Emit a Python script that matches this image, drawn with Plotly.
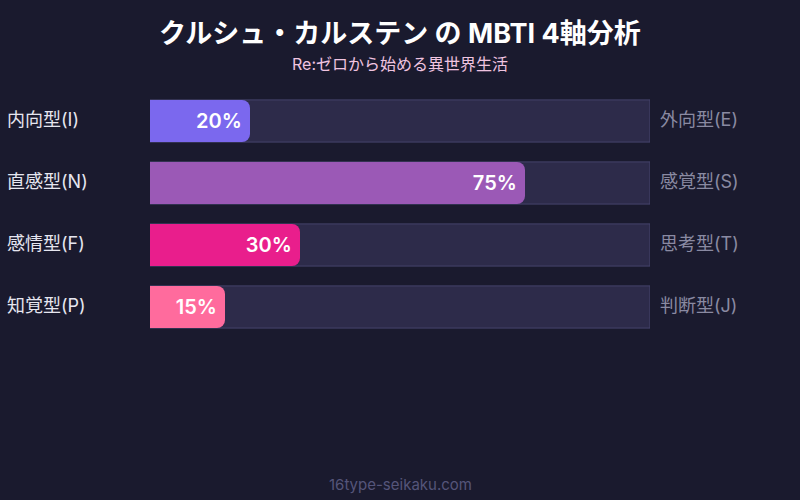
import plotly.graph_objects as go

# --- data ---
left_labels = ["内向型(I)", "直感型(N)", "感情型(F)", "知覚型(P)"]
right_labels = ["外向型(E)", "感覚型(S)", "思考型(T)", "判断型(J)"]
scores = [20, 75, 30, 15]
bar_colors = ["#7b68ee", "#9b59b6", "#e91e8c", "#ff6b9d"]
track_max = [100, 100, 100, 100]

FONT = "Inter, Noto Sans CJK JP"
BG = "#1a1a2e"
W, H = 800, 500
M_L, M_R, M_T, M_B = 150, 150, 90, 162

fig = go.Figure()

# background track (bottom axis)
fig.add_trace(go.Bar(
    x=track_max, y=left_labels, orientation="h",
    marker=dict(color="#2d2b4a", line=dict(color="#46446c", width=1), cornerradius=0),
    hoverinfo="skip", showlegend=False,
))

# score bars on an overlaying axis so they sit on top of the track
fig.add_trace(go.Bar(
    x=scores, y=left_labels, orientation="h", yaxis="y2",
    marker=dict(color=bar_colors, line=dict(width=0), cornerradius=8),
    text=[f"{v}% " for v in scores],
    textposition="inside", insidetextanchor="end",
    textfont=dict(family=FONT, size=20, color="white", weight=600),
    showlegend=False,
))

fig.update_layout(
    width=W, height=H,
    paper_bgcolor=BG, plot_bgcolor=BG,
    barmode="group", bargap=0.32,
    margin=dict(l=M_L, r=M_R, t=M_T, b=M_B),
    xaxis=dict(range=[0, 100], visible=False, fixedrange=True),
    yaxis=dict(autorange="reversed", visible=False, fixedrange=True),
    yaxis2=dict(autorange="reversed", visible=False, fixedrange=True,
                overlaying="y", matches="y"),
    font=dict(family=FONT),
)

# labels either side of the track
for lab, rlab in zip(left_labels, right_labels):
    fig.add_annotation(x=-(M_L - 5) / (W - M_L - M_R), y=lab, xref="paper", yref="y", text=lab,
                       xanchor="left", showarrow=False, yshift=2,
                       font=dict(family=FONT, size=18, color="#e6e6f0", weight="normal"))
    fig.add_annotation(x=1 + 8 / (W - M_L - M_R), y=lab, xref="paper", yref="y", text=rlab,
                       xanchor="left", showarrow=False, yshift=2,
                       font=dict(family=FONT, size=18, color="#8a8aa2", weight="normal"))


# convert pixel-from-top to paper y
def py(px_from_top):
    return (H - M_B - px_from_top) / (H - M_T - M_B)


fig.add_annotation(x=0.5, y=py(33), xref="paper", yref="paper", yanchor="middle",
                   text="<b>クルシュ・カルステン の MBTI 4軸分析</b>", showarrow=False,
                   font=dict(family=FONT, size=27, color="white"))
fig.add_annotation(x=0.5, y=py(64), xref="paper", yref="paper", yanchor="middle",
                   text="Re:ゼロから始める異世界生活", showarrow=False,
                   font=dict(family=FONT, size=16, color="#f0c4e0", weight="normal"))
fig.add_annotation(x=0.5, y=py(484), xref="paper", yref="paper", yanchor="middle",
                   text="16type-seikaku.com", showarrow=False,
                   font=dict(family=FONT, size=15, color="#55557a", weight="normal"))

fig.write_html("out.html", config={"displayModeBar": False},
               post_script="document.body.style.margin='0';")
